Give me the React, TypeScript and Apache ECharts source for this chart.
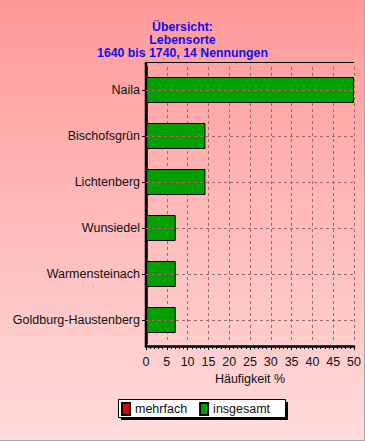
import React, { useEffect, useRef } from "react";
import * as echarts from "echarts";

const categories = [
  "Naila",
  "Bischofsgrün",
  "Lichtenberg",
  "Wunsiedel",
  "Warmensteinach",
  "Goldburg-Haustenberg",
];
const insgesamt = [50, 14.29, 14.29, 7.14, 7.14, 7.14];
const mehrfach: number[] = [];
const titleLines = ["Übersicht:", "Lebensorte", "1640 bis 1740, 14 Nennungen"];
const xAxisName = "Häufigkeit %";

const FONT = "'Liberation Sans', Arial, sans-serif";
const GRID = "#a86868";

export default function App() {
  const ref = useRef<HTMLDivElement>(null);
  useEffect(() => {
    if (!ref.current) return;
    const chart = echarts.init(ref.current, null, { renderer: "svg" });
    chart.setOption({
      animation: false,
      backgroundColor: new echarts.graphic.LinearGradient(0, 0, 0, 1, [
        { offset: 0, color: "#ff9999" },
        { offset: 1, color: "#ffdcdc" },
      ]),
      title: {
        text: titleLines.join("\n"),
        left: "center",
        top: 15,
        textStyle: {
          color: "#1010ee",
          fontFamily: FONT,
          fontWeight: "bold",
          fontSize: 12.3,
          lineHeight: 13,
        },
      },
      grid: { left: 146, right: 11, top: 67, bottom: 98 },
      xAxis: {
        type: "value",
        min: 0,
        max: 50,
        interval: 5,
        offset: 3,
        name: xAxisName,
        nameLocation: "middle",
        nameGap: 25,
        nameTextStyle: { color: "#111", fontFamily: FONT, fontSize: 12.5 },
        axisLine: { show: true, lineStyle: { color: "#000", width: 2.5 } },
        axisTick: { show: true, length: 4, lineStyle: { color: "#000" } },
        minorTick: { show: true, splitNumber: 5, length: 3, lineStyle: { color: "#000" } },
        axisLabel: { color: "#111", fontFamily: FONT, fontSize: 12.5, margin: 9 },
        splitLine: { show: true, lineStyle: { color: GRID, type: [3, 3], width: 1 } },
      },
      yAxis: {
        type: "category",
        data: categories,
        inverse: true,
        axisLine: { show: true, lineStyle: { color: "#000", width: 2.5 } },
        axisTick: { show: true, alignWithLabel: true, length: 4, lineStyle: { color: "#000" } },
        axisLabel: { color: "#111", fontFamily: FONT, fontSize: 12.5, margin: 6 },
        splitLine: { show: false },
      },
      legend: {
        data: ["mehrfach", "insgesamt"],
        left: 121,
        top: 402,
        orient: "horizontal",
        padding: 0,
        itemWidth: 8,
        itemHeight: 12,
        itemGap: 12,
        icon: "rect",
        z: 10,
        textStyle: { color: "#111", fontFamily: FONT, fontSize: 12.5 },
      },
      series: [
        {
          name: "grid-lines",
          type: "line",
          data: [],
          z: 1,
          silent: true,
          markLine: {
            silent: true,
            symbol: ["none", "none"],
            label: { show: false },
            lineStyle: { color: GRID, type: [3, 3], width: 1 },
            data: categories.map((c) => ({ yAxis: c })),
          },
        },
        {
          name: "mehrfach",
          type: "bar",
          data: mehrfach,
          barWidth: 26,
          barGap: "-100%",
          z: 2,
          itemStyle: { color: "#ee0000", borderColor: "#000", borderWidth: 1 },
        },
        {
          name: "insgesamt",
          type: "bar",
          data: insgesamt,
          barWidth: 26,
          barGap: "-100%",
          z: 3,
          itemStyle: { color: "#00a000", borderColor: "#000", borderWidth: 1 },
        },
      ],
      graphic: [
        { type: "line", z: 5, shape: { x1: 146, y1: 62.5, x2: 354, y2: 62.5 }, style: { stroke: "#000", lineWidth: 1 } },
        { type: "line", z: 5, shape: { x1: 146, y1: 62, x2: 146, y2: 347 }, style: { stroke: "#000", lineWidth: 2.5 } },
        { type: "rect", z: 1, shape: { x: 121, y: 402, width: 167, height: 18 }, style: { fill: "#000" } },
        { type: "rect", z: 2, shape: { x: 118.5, y: 399.5, width: 167, height: 18 }, style: { fill: "#fff", stroke: "#000", lineWidth: 1 } },
        { type: "line", z: 5, shape: { x1: 364.5, y1: 0, x2: 364.5, y2: 441 }, style: { stroke: "#a8a8a8", lineWidth: 1 } },
        { type: "line", z: 5, shape: { x1: 0, y1: 440.5, x2: 365, y2: 440.5 }, style: { stroke: "#a8a8a8", lineWidth: 1 } },
      ],
    });
    return () => chart.dispose();
  }, []);
  return (
    <div
      ref={ref}
      style={{ position: "fixed", left: 0, top: 0, width: 365, height: 441 }}
    />
  );
}
